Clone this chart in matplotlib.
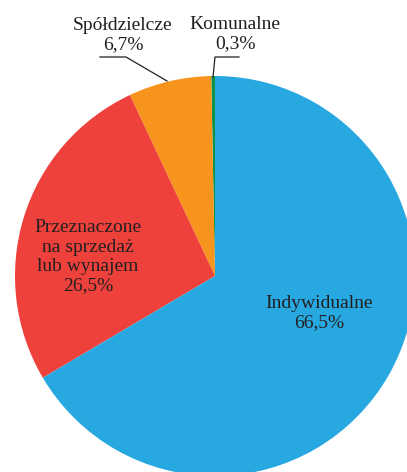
import matplotlib.pyplot as plt

labels = ["Komunalne", "Spółdzielcze", "Przeznaczone\nna sprzedaż\nlub wynajem", "Indywidualne"]
shares = [0.3, 6.7, 26.5, 66.5]
colors = ["#0E9348", "#F7941D", "#EF413B", "#27A8E0"]

W, H = 407, 472
plt.rcParams['font.family'] = ['Liberation Serif', 'DejaVu Serif']

fig = plt.figure(figsize=(W / 100, H / 100), dpi=100)
ax = fig.add_axes([0, 0, 1, 1])

cx, cy, r = 215, H - 276, 200
ax.pie(shares, colors=colors, startangle=90, counterclock=True,
       center=(cx, cy), radius=r, wedgeprops=dict(linewidth=0))

ax.set_xlim(0, W)
ax.set_ylim(0, H)
ax.set_aspect('equal')
ax.axis('off')

txt = dict(ha='center', va='center', fontsize=14, color='#231F20', linespacing=1.18)

def pct(v):
    return f"{v:.1f}".replace('.', ',') + "%"

# labels inside
ax.text(319, H - 313, f"{labels[3]}\n{pct(shares[3])}", **txt)
ax.text(88, H - 257, f"{labels[2]}\n{pct(shares[2])}", **txt)

# labels outside with leader lines
ax.text(123, H - 35, f"{labels[1]}\n{pct(shares[1])}", **txt)
ax.plot([100, 126, 167], [H - 57, H - 57, H - 81], color='#231F20', lw=0.9)

ax.text(235, H - 34, f"{labels[0]}\n{pct(shares[0])}", **txt)
ax.plot([239, 215, 213], [H - 57, H - 57, H - 77], color='#231F20', lw=0.9)

fig.savefig("out.png", dpi=100)
